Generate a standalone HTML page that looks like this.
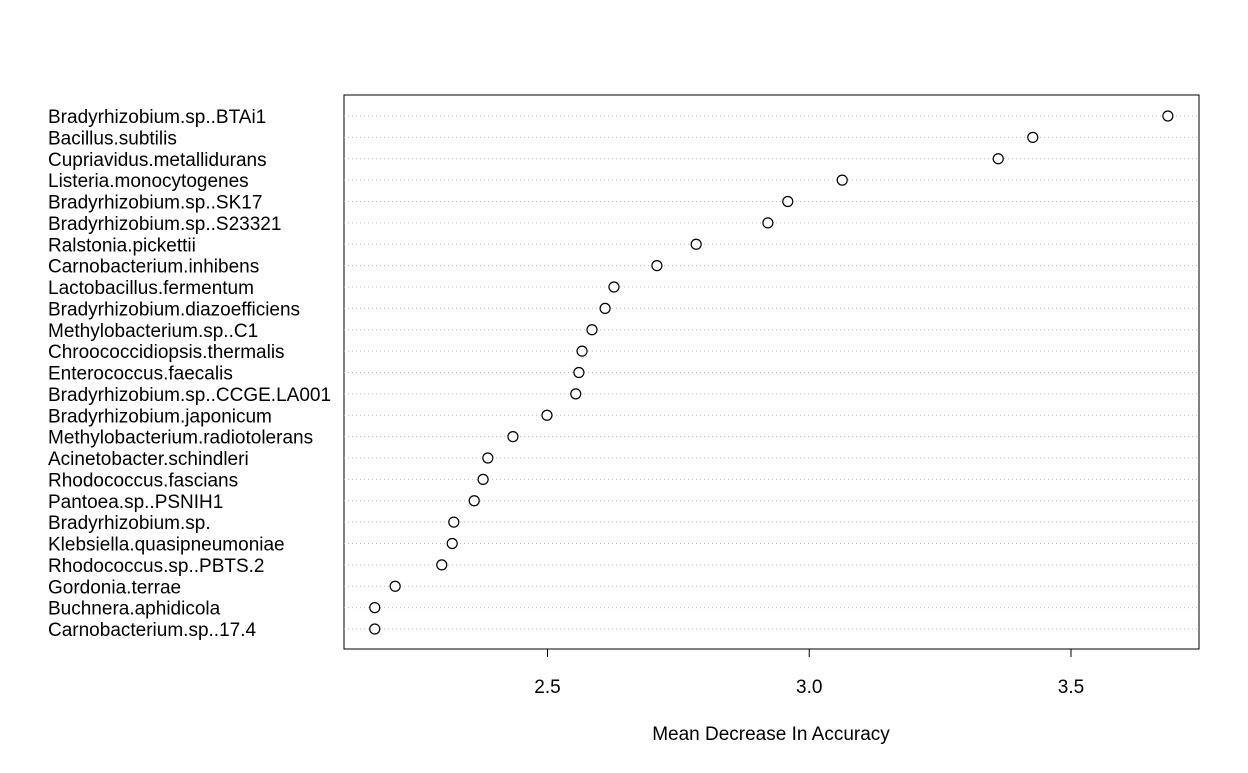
<!DOCTYPE html>
<html><head><meta charset="utf-8"><style>
body{margin:0;background:#fff;}
svg text{font-family:"Liberation Sans",Arial,sans-serif;font-size:19px;fill:#000;}
</style></head><body>
<svg id="chart" width="1248" height="768" xmlns="http://www.w3.org/2000/svg">
<rect x="344" y="95" width="855" height="554" fill="none" stroke="#000" stroke-width="1"/>
<g id="rows"></g>
<g id="xaxis"></g>
<text x="771" y="740" text-anchor="middle">Mean Decrease In Accuracy</text>
</svg>
<script>
const categories=["Bradyrhizobium.sp..BTAi1","Bacillus.subtilis","Cupriavidus.metallidurans","Listeria.monocytogenes","Bradyrhizobium.sp..SK17","Bradyrhizobium.sp..S23321","Ralstonia.pickettii","Carnobacterium.inhibens","Lactobacillus.fermentum","Bradyrhizobium.diazoefficiens","Methylobacterium.sp..C1","Chroococcidiopsis.thermalis","Enterococcus.faecalis","Bradyrhizobium.sp..CCGE.LA001","Bradyrhizobium.japonicum","Methylobacterium.radiotolerans","Acinetobacter.schindleri","Rhodococcus.fascians","Pantoea.sp..PSNIH1","Bradyrhizobium.sp.","Klebsiella.quasipneumoniae","Rhodococcus.sp..PBTS.2","Gordonia.terrae","Buchnera.aphidicola","Carnobacterium.sp..17.4"];
const values=[3.685,3.427,3.361,3.063,2.959,2.921,2.784,2.709,2.627,2.610,2.585,2.566,2.560,2.554,2.499,2.434,2.386,2.377,2.360,2.321,2.318,2.298,2.209,2.170,2.170];
const ticks=[2.5,3.0,3.5];
const tickLabels=["2.5","3.0","3.5"];
const NS="http://www.w3.org/2000/svg";
const xs=v=>547.5+(v-2.5)*523.5;
const ys=i=>116+i*(629-116)/(categories.length-1);
const rows=document.getElementById('rows');
function mk(t,a){const e=document.createElementNS(NS,t);for(const k in a)e.setAttribute(k,a[k]);return e;}
categories.forEach((c,i)=>{
  const y=ys(i);
  const g=mk('line',{x1:344,x2:1199,y1:y,y2:y,stroke:'#bbb','stroke-dasharray':'1,3','stroke-width':1});
  
  
  rows.appendChild(g);
  const t=mk('text',{x:48,y:y+7});
  t.textContent=c;
  
  
  rows.appendChild(t);
  const p=mk('circle',{cx:xs(values[i]),cy:y,r:5,fill:'#fff',stroke:'#000','stroke-width':1.2});
  
  
  rows.appendChild(p);
});
const xa=document.getElementById('xaxis');
const ax=mk('line',{x1:xs(ticks[0]),x2:xs(ticks[ticks.length-1]),y1:649,y2:649,stroke:'#000'});


xa.appendChild(ax);
ticks.forEach((v,i)=>{
  const l=mk('line',{x1:xs(v),x2:xs(v),y1:649,y2:657,stroke:'#000'});
  
  
  xa.appendChild(l);
  const t=mk('text',{x:xs(v),y:693,'text-anchor':'middle'});
  t.textContent=tickLabels[i];
  
  
  xa.appendChild(t);
});
</script>
</body></html>
